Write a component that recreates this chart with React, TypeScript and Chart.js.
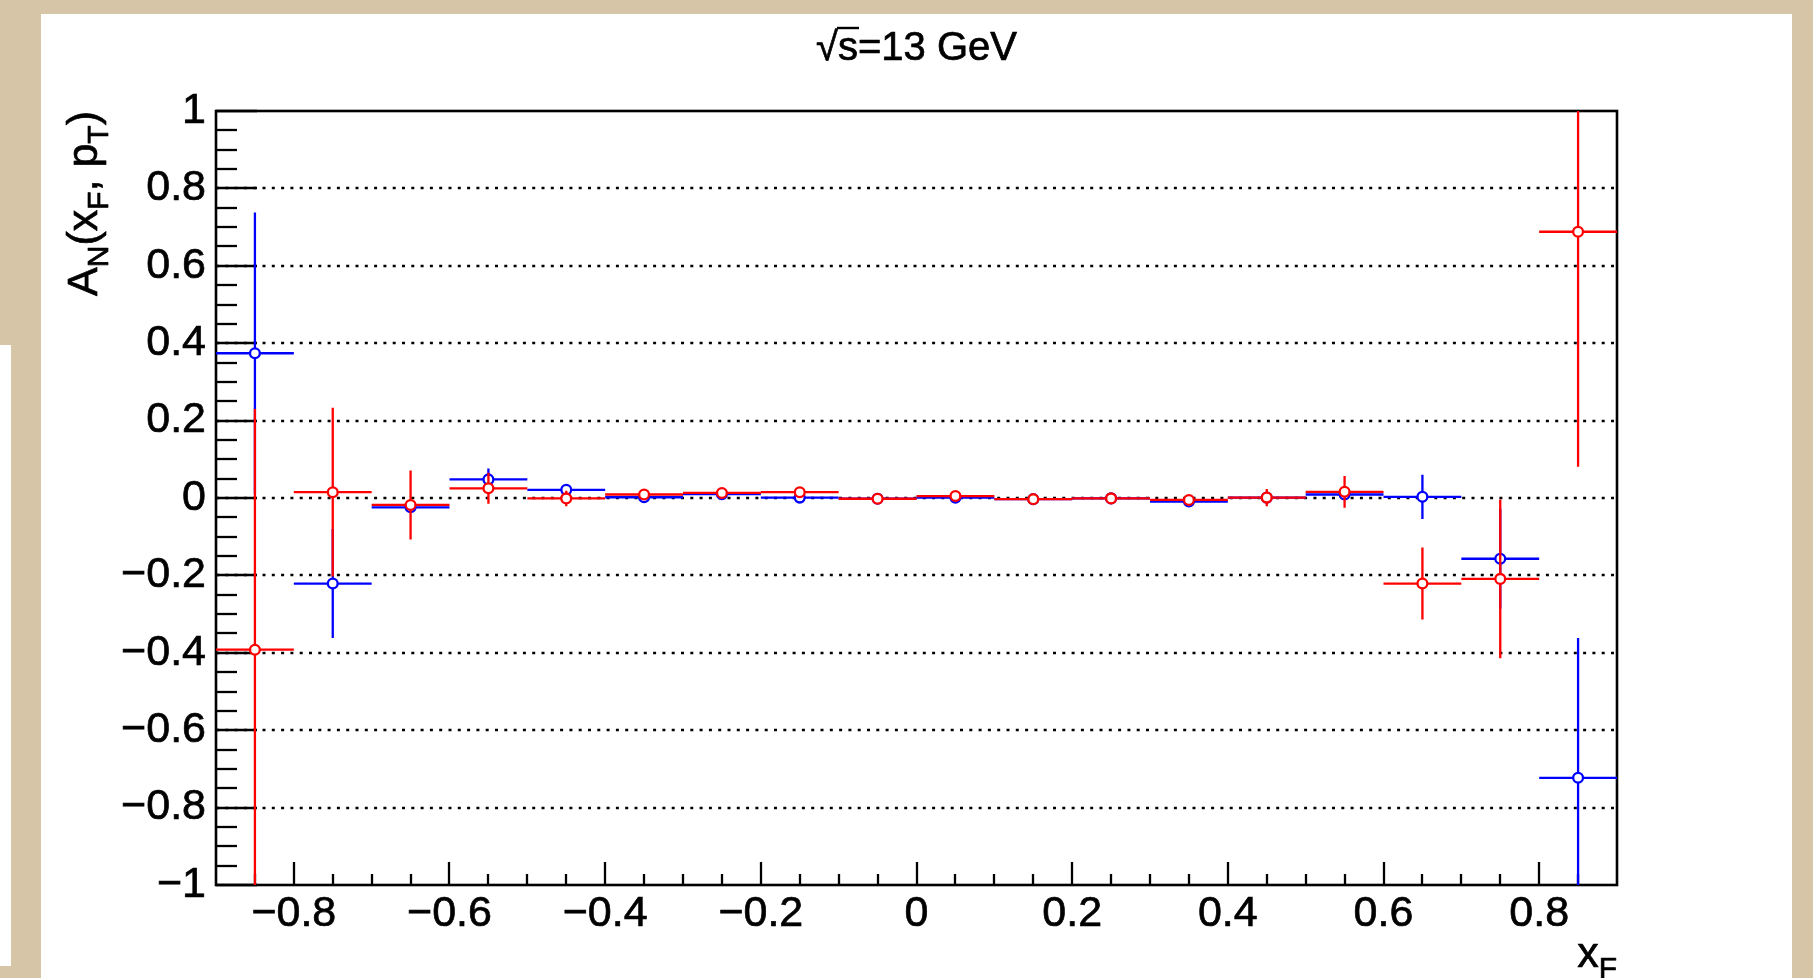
import React, { useEffect, useRef } from "react";
import { Chart, registerables } from "chart.js";

Chart.register(...registerables);

// ---- data ----
const xBinCenters = [-0.85, -0.75, -0.65, -0.55, -0.45, -0.35, -0.25, -0.15, -0.05, 0.05, 0.15, 0.25, 0.35, 0.45, 0.55, 0.65, 0.75, 0.85];
const xBinHalfWidth = 0.05;

const blueValues = [0.374, -0.221, -0.024, 0.048, 0.021, 0.002, 0.010, 0.001, -0.002, 0.001, -0.003, -0.001, -0.009, 0.001, 0.009, 0.003, -0.157, -0.723];
const blueErrors = [0.364, 0.141, 0.008, 0.028, 0.008, 0.006, 0.005, 0.005, 0.004, 0.004, 0.004, 0.005, 0.006, 0.012, 0.010, 0.057, 0.129, 0.361];

const redValues = [-0.392, 0.015, -0.018, 0.025, -0.001, 0.009, 0.013, 0.015, -0.002, 0.005, -0.003, -0.001, -0.005, 0.001, 0.016, -0.221, -0.209, 0.688];
const redErrors = [0.622, 0.218, 0.089, 0.040, 0.020, 0.007, 0.006, 0.006, 0.005, 0.005, 0.005, 0.005, 0.007, 0.022, 0.041, 0.093, 0.205, 0.607];

const xTickLabels = [-0.8, -0.6, -0.4, -0.2, 0, 0.2, 0.4, 0.6, 0.8];
const yTickLabels = [-1, -0.8, -0.6, -0.4, -0.2, 0, 0.2, 0.4, 0.6, 0.8, 1];
const yGridValues = [-0.8, -0.6, -0.4, -0.2, 0, 0.2, 0.4, 0.6, 0.8];

const titleText = "s=13 GeV";
const xTitleMain = "x";
const xTitleSub = "F";

const FONT = "'Liberation Sans', Arial, Helvetica, sans-serif";
const BLUE = "#0000ff";
const RED = "#ff0000";
const TEXT_STROKE = 0.7;

const series = [
  { values: redValues, errors: redErrors, color: RED },
  { values: blueValues, errors: blueErrors, color: BLUE },
];

const fmt = (v: number) => {
  const r = Math.round(v * 10) / 10;
  return (r === 0 ? "0" : String(r)).replace("-", "\u2212");
};

const drawText = (ctx: CanvasRenderingContext2D, t: string, x: number, y: number) => {
  ctx.lineWidth = TEXT_STROKE;
  ctx.lineJoin = "round";
  ctx.strokeText(t, x, y);
  ctx.fillText(t, x, y);
};

const rootPlugin = {
  id: "rootStyle",
  beforeDatasetsDraw(chart: any) {
    const { ctx, chartArea: a, scales } = chart;
    const x = scales.x;
    const y = scales.y;
    ctx.save();
    // dotted horizontal grid
    ctx.strokeStyle = "#000";
    ctx.lineWidth = 2.4;
    ctx.setLineDash([3, 6.3]);
    for (const v of yGridValues) {
      const py = Math.round(y.getPixelForValue(v));
      ctx.beginPath();
      ctx.moveTo(a.left, py);
      ctx.lineTo(a.right, py);
      ctx.stroke();
    }
    ctx.setLineDash([]);
    ctx.lineWidth = 2.3;
    // y ticks (inside)
    for (let k = -20; k <= 20; k++) {
      const py = Math.round(y.getPixelForValue(k * 0.05));
      const len = k % 4 === 0 ? 41 : 21;
      ctx.beginPath();
      ctx.moveTo(a.left, py);
      ctx.lineTo(a.left + len, py);
      ctx.stroke();
    }
    // x ticks (inside)
    for (let k = -17; k <= 17; k++) {
      const px = Math.round(x.getPixelForValue(k * 0.05));
      const len = k % 4 === 0 ? 23 : 11;
      ctx.beginPath();
      ctx.moveTo(px, a.bottom);
      ctx.lineTo(px, a.bottom - len);
      ctx.stroke();
    }
    // frame
    ctx.lineWidth = 2.6;
    ctx.strokeRect(a.left, a.top, a.right - a.left, a.bottom - a.top);
    ctx.restore();
  },
  beforeDatasetDraw(chart: any, args: any) {
    const s = series[args.index];
    if (!s) return;
    const { ctx, chartArea: a, scales } = chart;
    const x = scales.x;
    const y = scales.y;
    ctx.save();
    ctx.beginPath();
    ctx.rect(a.left, a.top, a.right - a.left, a.bottom - a.top);
    ctx.clip();
    ctx.strokeStyle = s.color;
    ctx.lineWidth = 2.3;
    xBinCenters.forEach((xc, i) => {
      const v = s.values[i];
      const e = s.errors[i];
      const px = x.getPixelForValue(xc);
      const py = y.getPixelForValue(v);
      ctx.beginPath();
      ctx.moveTo(x.getPixelForValue(xc - xBinHalfWidth), py);
      ctx.lineTo(x.getPixelForValue(xc + xBinHalfWidth), py);
      ctx.moveTo(px, y.getPixelForValue(v + e));
      ctx.lineTo(px, y.getPixelForValue(v - e));
      ctx.stroke();
    });
    ctx.restore();
  },
  afterDraw(chart: any) {
    const { ctx, chartArea: a } = chart;
    ctx.save();
    ctx.fillStyle = "#000";
    ctx.strokeStyle = "#000";
    ctx.textBaseline = "alphabetic";

    // --- y-axis title: A_N(x_F, p_T), rotated, right-aligned to top of axis
    const big = 43;
    const small = 30;
    const parts: [string, boolean][] = [
      ["A", false], ["N", true], ["(x", false], ["F", true], [", p", false], ["T", true], [")", false],
    ];
    let total = 0;
    const widths: number[] = [];
    for (const [t, sub] of parts) {
      ctx.font = `${sub ? small : big}px ${FONT}`;
      const w = ctx.measureText(t).width;
      widths.push(w);
      total += w;
    }
    ctx.translate(97, a.top);
    ctx.rotate(-Math.PI / 2);
    let cx = -total;
    parts.forEach(([t, sub], i) => {
      ctx.font = `${sub ? small : big}px ${FONT}`;
      drawText(ctx, t, cx, sub ? 11 : 0);
      cx += widths[i];
    });
    ctx.setTransform(1, 0, 0, 1, 0, 0);

    // --- x-axis title: x_F right aligned at axis end
    ctx.font = `${small}px ${FONT}`;
    const wSub = ctx.measureText(xTitleSub).width;
    ctx.font = `${big}px ${FONT}`;
    const wMain = ctx.measureText(xTitleMain).width;
    const xEnd = a.right;
    drawText(ctx, xTitleMain, xEnd - wSub - wMain, 967);
    ctx.font = `${small}px ${FONT}`;
    drawText(ctx, xTitleSub, xEnd - wSub, 978);

    // --- top title: √s=13 GeV
    const tSize = 40;
    ctx.font = `${tSize}px ${FONT}`;
    const wRoot = ctx.measureText("\u221A").width;
    const wText = ctx.measureText(titleText).width;
    const wS = ctx.measureText("s").width;
    const center = (a.left + a.right) / 2;
    const start = center - (wRoot + wText) / 2;
    const base = 60;
    drawText(ctx, "\u221A", start, base);
    drawText(ctx, titleText, start + wRoot, base);
    ctx.lineWidth = 2.4;
    ctx.beginPath();
    ctx.moveTo(start + wRoot - 1, 28);
    ctx.lineTo(start + wRoot + wS + 1, 28);
    ctx.stroke();
    ctx.restore();
  },
};

export default function App() {
  const canvasRef = useRef<HTMLCanvasElement | null>(null);

  useEffect(() => {
    const canvas = canvasRef.current;
    if (!canvas) return;
    const mk = (s: { values: number[]; color: string }) => ({
      type: "scatter" as const,
      data: xBinCenters.map((xv, i) => ({ x: xv, y: s.values[i] })),
      showLine: false,
      pointRadius: 4.9,
      pointHoverRadius: 4.9,
      pointBorderWidth: 2.3,
      pointBorderColor: s.color,
      pointBackgroundColor: "#ffffff",
      clip: false as any,
    });
    const tickFont = { family: FONT, size: 43, lineHeight: 1 };
    const chart = new Chart(canvas, {
      type: "scatter",
      data: { datasets: series.map(mk) as any },
      options: {
        animation: false,
        responsive: false,
        devicePixelRatio: 1,
        events: [],
        layout: { padding: { top: 111, right: 196, bottom: 0, left: 0 } },
        plugins: { legend: { display: false }, tooltip: { enabled: false }, title: { display: false } },
        scales: {
          x: {
            type: "linear",
            min: -0.9,
            max: 0.9,
            grid: { display: false },
            border: { display: false },
            afterBuildTicks: (scale: any) => {
              scale.ticks = xTickLabels.map((v) => ({ value: v }));
            },
            afterFit: (scale: any) => {
              scale.height = 93;
            },
            ticks: {
              autoSkip: false,
              maxRotation: 0,
              minRotation: 0,
              padding: 0,
              color: "#000",
              textStrokeColor: "#000",
              textStrokeWidth: TEXT_STROKE,
              font: tickFont,
              callback: (v: any) => fmt(Number(v)),
            } as any,
          },
          y: {
            type: "linear",
            min: -1,
            max: 1,
            grid: { display: false },
            border: { display: false },
            afterBuildTicks: (scale: any) => {
              scale.ticks = yTickLabels.map((v) => ({ value: v }));
            },
            afterFit: (scale: any) => {
              scale.width = 216;
            },
            ticks: {
              autoSkip: false,
              padding: 2,
              color: "#000",
              textStrokeColor: "#000",
              textStrokeWidth: TEXT_STROKE,
              font: tickFont,
              callback: (v: any) => fmt(Number(v)),
            } as any,
          },
        },
      },
      plugins: [rootPlugin],
    });
    return () => chart.destroy();
  }, []);

  return (
    <div style={{ position: "fixed", left: 0, top: 0, width: 1813, height: 978, background: "#d6c5a6", overflow: "hidden" }}>
      <div style={{ position: "absolute", left: 41, top: 14, width: 1751, height: 964, background: "#ffffff" }} />
      <div style={{ position: "absolute", left: 0, top: 345, width: 11, height: 621, background: "#ffffff" }} />
      <canvas ref={canvasRef} width={1813} height={978} style={{ position: "absolute", left: 0, top: 0, width: 1813, height: 978, display: "block" }} />
    </div>
  );
}
